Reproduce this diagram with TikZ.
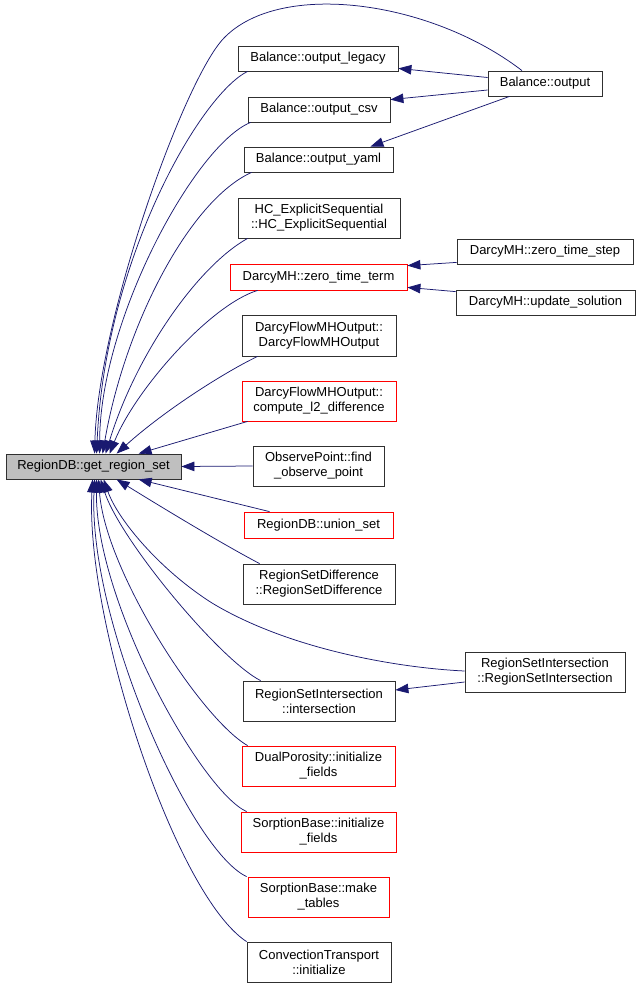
\documentclass[tikz,border=0pt]{standalone}
\usepackage{fontspec}
\setmainfont{Liberation Sans}
\usetikzlibrary{arrows.meta,calc}
\definecolor{edgeblue}{HTML}{191970}
\definecolor{nodegray}{HTML}{BFBFBF}
\definecolor{boxline}{HTML}{303030}
\tikzset{
  fn/.style={draw=boxline, line width=0.8pt, rectangle, inner sep=0pt, align=center,
    font=\fontsize{13}{15}\selectfont},
  fnred/.style={fn, draw=red},
  fnmain/.style={fn, fill=nodegray},
  e/.style={draw=edgeblue, line width=0.75pt, -{Triangle[length=13pt,width=9.5pt]}},
}
\begin{document}
\begin{tikzpicture}[x=1pt,y=-1pt]
\useasboundingbox (0,0) rectangle (637,988);
% nodes
\node[fnmain, minimum width=175pt, minimum height=25pt] (main) at (93.5,466.5) {RegionDB::get\_region\_set};
\node[fn, minimum width=160pt, minimum height=25pt] (legacy) at (318,58.5) {Balance::output\_legacy};
\node[fn, minimum width=142pt, minimum height=25pt] (csv) at (319,109.5) {Balance::output\_csv};
\node[fn, minimum width=149pt, minimum height=25pt] (yaml) at (318.5,159.5) {Balance::output\_yaml};
\node[fn, minimum width=162pt, minimum height=40pt] (hc) at (319,218) {HC\_ExplicitSequential\\::HC\_ExplicitSequential};
\node[fnred, minimum width=177pt, minimum height=26pt] (ztt) at (318.5,277) {DarcyMH::zero\_time\_term};
\node[fn, minimum width=114pt, minimum height=25pt] (bo) at (545,83.5) {Balance::output};
\node[fn, minimum width=176pt, minimum height=25pt] (zts) at (545,251.5) {DarcyMH::zero\_time\_step};
\node[fn, minimum width=179pt, minimum height=25pt] (us) at (545.5,302.5) {DarcyMH::update\_solution};
\node[fn, minimum width=154pt, minimum height=41pt] (dfo) at (319,335.5) {DarcyFlowMHOutput::\\DarcyFlowMHOutput};
\node[fnred, minimum width=154pt, minimum height=40pt] (l2) at (319,401) {DarcyFlowMHOutput::\\compute\_l2\_difference};
\node[fn, minimum width=131pt, minimum height=40pt] (op) at (318.5,466) {ObservePoint::find\\\_observe\_point};
\node[fnred, minimum width=149pt, minimum height=26pt] (union) at (318.5,525) {RegionDB::union\_set};
\node[fn, minimum width=152pt, minimum height=40pt] (rsd) at (319,584) {RegionSetDifference\\::RegionSetDifference};
\node[fn, minimum width=160pt, minimum height=40pt] (rsi) at (545,672) {RegionSetIntersection\\::RegionSetIntersection};
\node[fn, minimum width=152pt, minimum height=40pt] (inter) at (319,701) {RegionSetIntersection\\::intersection};
\node[fnred, minimum width=153pt, minimum height=40pt] (dp) at (318.5,766) {DualPorosity::initialize\\\_fields};
\node[fnred, minimum width=155pt, minimum height=40pt] (sbi) at (318.5,832) {SorptionBase::initialize\\\_fields};
\node[fnred, minimum width=141pt, minimum height=40pt] (mt) at (318.5,897) {SorptionBase::make\\\_tables};
\node[fn, minimum width=144pt, minimum height=40pt] (ct) at (319,962) {ConvectionTransport\\::initialize};
% edges into main (top)
\draw[e] ($(bo.north)+(-23,0)$) .. controls (430,0) and (280,-20) .. (224,38)
   .. controls (184,79) and (98,320) .. ($(main.north west)+(89,0)$);
\draw[e] ($(legacy.south west)+(10,0)$) .. controls (200,95) and (105,260) .. ($(main.north west)+(91,0)$);
\draw[e] ($(csv.south west)+(3,0)$) .. controls (195,145) and (100,320) .. ($(main.north west)+(94,0)$);
\draw[e] ($(yaml.south west)+(8,0)$) .. controls (190,200) and (125,324) .. ($(main.north west)+(97,0)$);
\draw[e] ($(hc.south west)+(10,0)$) .. controls (198,266) and (136,354) .. ($(main.north west)+(100,0)$);
\draw[e] ($(ztt.south west)+(28,0)$) .. controls (210,305) and (135,390) .. ($(main.north west)+(104,0)$);
\draw[e] ($(dfo.south west)+(16,0)$) .. controls (225,372) and (165,410) .. ($(main.north west)+(111,0)$);
\draw[e] ($(l2.south west)+(6,0)$) -- ($(main.north west)+(133,0)$);
\draw[e] (op.west) -- (main.east);
% edges into main (bottom)
\draw[e] ($(union.north)+(-49,0)$) -- ($(main.south west)+(133,0)$);
\draw[e] ($(rsd.north west)+(17,0)$) .. controls (215,540) and (150,500) .. ($(main.south west)+(111,0)$);
\draw[e] ($(rsi.west)+(0,-1)$) .. controls (400,668) and (290,650) .. (212,603)
   .. controls (160,570) and (118,520) .. ($(main.south west)+(98,0)$);
\draw[e] ($(inter.north west)+(18,0)$) .. controls (220,660) and (120,540) .. ($(main.south west)+(95,0)$);
\draw[e] ($(dp.north west)+(6,0)$) .. controls (200,718) and (105,570) .. ($(main.south west)+(93,0)$);
\draw[e] ($(sbi.north west)+(6,0)$) .. controls (200,790) and (95,600) .. ($(main.south west)+(91,0)$);
\draw[e] ($(mt.north west)+(-1,0)$) .. controls (190,850) and (88,620) .. ($(main.south west)+(89,0)$);
\draw[e] (ct.north west) .. controls (175,895) and (85,620) .. ($(main.south west)+(87,0)$);
% other edges
\draw[e] ($(bo.west)+(0,-6)$) -- ($(legacy.south east)+(0,-3)$);
\draw[e] ($(bo.west)+(0,6.5)$) -- ($(csv.north east)+(0,3)$);
\draw[e] ($(bo.south west)+(22,0)$) -- ($(yaml.north east)+(-23,0)$);
\draw[e] ($(zts.south west)+(0,-2)$) -- ($(ztt.north east)+(0,2)$);
\draw[e] ($(us.north west)+(0,2)$) -- ($(ztt.south east)+(0,-3)$);
\draw[e] ($(rsi.west)+(0,10)$) -- ($(inter.east)+(0,-11)$);
\end{tikzpicture}
\end{document}
